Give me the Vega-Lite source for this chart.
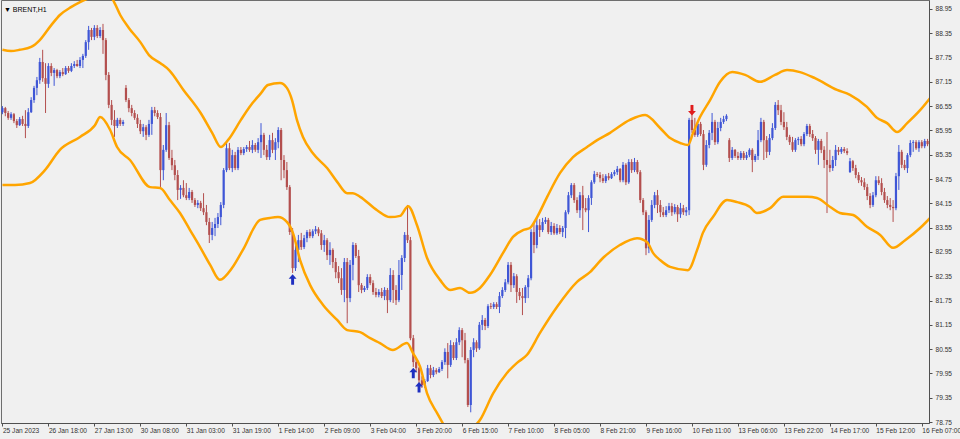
{
  "$schema": "https://vega.github.io/schema/vega-lite/v6.json",
  "width": 928,
  "height": 423,
  "autosize": {"type": "none"},
  "padding": {"left": 1, "top": 0, "right": 31, "bottom": 16},
  "background": "#f0f0f0",
  "title": {
    "text": "▼ BRENT,H1",
    "anchor": "start",
    "frame": "group",
    "orient": "top",
    "baseline": "bottom",
    "offset": -20,
    "dx": 3,
    "font": "Liberation Sans",
    "fontSize": 7,
    "fontWeight": "normal",
    "color": "#000000"
  },
  "config": {
    "view": {"stroke": "#6e6e6e", "strokeWidth": 1},
    "axis": {
      "grid": false,
      "domainColor": "#505050",
      "tickColor": "#505050",
      "tickSize": 3,
      "labelColor": "#333333",
      "labelFont": "Liberation Sans",
      "labelFontSize": 6.6,
      "labelOverlap": false,
      "labelFlush": false,
      "labelBound": false
    }
  },
  "datasets": {
    "bars": [
      {"i":0,"o":86.40,"h":86.55,"l":86.35,"c":86.50},
      {"i":1,"o":86.50,"h":86.53,"l":86.30,"c":86.38},
      {"i":2,"o":86.38,"h":86.43,"l":86.21,"c":86.26},
      {"i":3,"o":86.26,"h":86.40,"l":86.21,"c":86.35},
      {"i":4,"o":86.35,"h":86.38,"l":86.13,"c":86.18},
      {"i":5,"o":86.18,"h":86.23,"l":86.01,"c":86.08},
      {"i":6,"o":86.08,"h":86.28,"l":86.06,"c":86.23},
      {"i":7,"o":86.23,"h":86.31,"l":86.06,"c":86.11},
      {"i":8,"o":86.11,"h":86.45,"l":85.76,"c":86.06},
      {"i":9,"o":86.06,"h":86.50,"l":86.01,"c":86.40},
      {"i":10,"o":86.40,"h":86.77,"l":86.38,"c":86.70},
      {"i":11,"o":86.70,"h":87.05,"l":86.63,"c":87.00},
      {"i":12,"o":87.00,"h":87.27,"l":86.82,"c":87.19},
      {"i":13,"o":87.19,"h":87.74,"l":87.10,"c":87.64},
      {"i":14,"o":87.64,"h":87.94,"l":87.15,"c":87.24},
      {"i":15,"o":87.24,"h":87.61,"l":86.38,"c":87.10},
      {"i":16,"o":87.10,"h":87.61,"l":87.00,"c":87.54},
      {"i":17,"o":87.54,"h":87.61,"l":87.29,"c":87.37},
      {"i":18,"o":87.37,"h":87.49,"l":87.05,"c":87.44},
      {"i":19,"o":87.44,"h":87.47,"l":87.24,"c":87.29},
      {"i":20,"o":87.29,"h":87.44,"l":87.24,"c":87.39},
      {"i":21,"o":87.39,"h":87.49,"l":87.29,"c":87.34},
      {"i":22,"o":87.34,"h":87.54,"l":87.32,"c":87.49},
      {"i":23,"o":87.49,"h":87.54,"l":87.37,"c":87.42},
      {"i":24,"o":87.42,"h":87.61,"l":87.39,"c":87.54},
      {"i":25,"o":87.54,"h":87.66,"l":87.49,"c":87.59},
      {"i":26,"o":87.59,"h":87.69,"l":87.52,"c":87.54},
      {"i":27,"o":87.54,"h":87.76,"l":87.49,"c":87.69},
      {"i":28,"o":87.69,"h":87.84,"l":87.49,"c":87.79},
      {"i":29,"o":87.79,"h":88.18,"l":87.74,"c":88.13},
      {"i":30,"o":88.13,"h":88.53,"l":87.94,"c":88.43},
      {"i":31,"o":88.43,"h":88.48,"l":88.18,"c":88.26},
      {"i":32,"o":88.26,"h":88.55,"l":88.18,"c":88.48},
      {"i":33,"o":88.48,"h":88.55,"l":88.23,"c":88.28},
      {"i":34,"o":88.28,"h":88.50,"l":88.23,"c":88.43},
      {"i":35,"o":88.43,"h":88.58,"l":87.84,"c":88.18},
      {"i":36,"o":88.18,"h":88.23,"l":87.19,"c":87.32},
      {"i":37,"o":87.32,"h":87.39,"l":86.50,"c":86.58},
      {"i":38,"o":86.58,"h":86.70,"l":86.08,"c":86.21},
      {"i":39,"o":86.21,"h":86.45,"l":85.79,"c":86.06},
      {"i":40,"o":86.06,"h":86.26,"l":86.01,"c":86.21},
      {"i":41,"o":86.21,"h":86.26,"l":86.06,"c":86.11},
      {"i":42,"o":86.11,"h":86.21,"l":86.06,"c":86.16},
      {"i":43,"o":87.00,"h":87.07,"l":86.65,"c":86.70},
      {"i":44,"o":86.70,"h":86.75,"l":86.40,"c":86.50},
      {"i":45,"o":86.50,"h":86.58,"l":86.30,"c":86.38},
      {"i":46,"o":86.38,"h":86.45,"l":86.21,"c":86.26},
      {"i":47,"o":86.26,"h":86.35,"l":86.01,"c":86.11},
      {"i":48,"o":86.11,"h":86.21,"l":85.86,"c":85.93},
      {"i":49,"o":85.93,"h":86.11,"l":85.79,"c":86.03},
      {"i":50,"o":86.03,"h":86.08,"l":85.71,"c":85.84},
      {"i":51,"o":85.84,"h":86.21,"l":85.79,"c":86.11},
      {"i":52,"o":86.11,"h":86.53,"l":85.84,"c":86.45},
      {"i":53,"o":86.45,"h":86.53,"l":86.30,"c":86.38},
      {"i":54,"o":86.38,"h":86.45,"l":86.23,"c":86.28},
      {"i":55,"o":86.28,"h":86.38,"l":84.55,"c":84.97},
      {"i":56,"o":84.97,"h":85.59,"l":84.72,"c":85.47},
      {"i":57,"o":85.47,"h":86.38,"l":85.42,"c":86.08},
      {"i":58,"o":86.08,"h":86.16,"l":85.22,"c":85.27},
      {"i":59,"o":85.27,"h":85.47,"l":84.97,"c":85.09},
      {"i":60,"o":85.09,"h":85.22,"l":84.72,"c":84.85},
      {"i":61,"o":84.85,"h":84.97,"l":84.23,"c":84.48},
      {"i":62,"o":84.48,"h":84.60,"l":84.26,"c":84.53},
      {"i":63,"o":84.53,"h":84.72,"l":84.30,"c":84.35},
      {"i":64,"o":84.35,"h":84.65,"l":84.23,"c":84.28},
      {"i":65,"o":84.28,"h":84.53,"l":84.23,"c":84.43},
      {"i":66,"o":84.43,"h":84.48,"l":84.16,"c":84.23},
      {"i":67,"o":84.23,"h":84.28,"l":84.06,"c":84.11},
      {"i":68,"o":84.11,"h":84.23,"l":84.03,"c":84.16},
      {"i":69,"o":84.16,"h":84.21,"l":83.96,"c":84.03},
      {"i":70,"o":84.03,"h":84.40,"l":83.86,"c":83.93},
      {"i":71,"o":83.93,"h":84.11,"l":83.61,"c":83.69},
      {"i":72,"o":83.69,"h":83.79,"l":83.17,"c":83.37},
      {"i":73,"o":83.37,"h":83.69,"l":83.24,"c":83.54},
      {"i":74,"o":83.54,"h":83.79,"l":83.34,"c":83.64},
      {"i":75,"o":83.64,"h":83.91,"l":83.54,"c":83.81},
      {"i":76,"o":83.81,"h":84.18,"l":83.61,"c":84.11},
      {"i":77,"o":84.11,"h":85.02,"l":84.03,"c":84.97},
      {"i":78,"o":84.97,"h":85.66,"l":84.92,"c":85.51},
      {"i":79,"o":85.51,"h":85.64,"l":84.97,"c":85.02},
      {"i":80,"o":85.02,"h":85.47,"l":84.92,"c":85.34},
      {"i":81,"o":85.34,"h":85.42,"l":84.97,"c":85.02},
      {"i":82,"o":85.02,"h":85.54,"l":84.97,"c":85.47},
      {"i":83,"o":85.47,"h":85.54,"l":85.34,"c":85.39},
      {"i":84,"o":85.39,"h":85.54,"l":85.34,"c":85.49},
      {"i":85,"o":85.49,"h":85.59,"l":85.42,"c":85.54},
      {"i":86,"o":85.54,"h":85.69,"l":85.42,"c":85.47},
      {"i":87,"o":85.47,"h":85.71,"l":85.39,"c":85.59},
      {"i":88,"o":85.59,"h":85.64,"l":85.42,"c":85.47},
      {"i":89,"o":85.47,"h":85.76,"l":85.39,"c":85.66},
      {"i":90,"o":85.66,"h":86.13,"l":85.27,"c":85.84},
      {"i":91,"o":85.84,"h":85.89,"l":85.34,"c":85.47},
      {"i":92,"o":85.47,"h":85.59,"l":85.22,"c":85.29},
      {"i":93,"o":85.29,"h":85.84,"l":85.22,"c":85.71},
      {"i":94,"o":85.71,"h":85.89,"l":85.39,"c":85.47},
      {"i":95,"o":85.47,"h":85.76,"l":85.22,"c":85.66},
      {"i":96,"o":85.66,"h":86.03,"l":85.51,"c":85.96},
      {"i":97,"o":85.96,"h":86.01,"l":84.72,"c":85.22},
      {"i":98,"o":85.22,"h":85.34,"l":84.77,"c":84.97},
      {"i":99,"o":84.97,"h":85.17,"l":84.48,"c":84.55},
      {"i":100,"o":84.55,"h":84.60,"l":83.37,"c":83.44},
      {"i":101,"o":83.44,"h":83.54,"l":82.43,"c":82.55},
      {"i":102,"o":82.55,"h":83.12,"l":82.48,"c":83.00},
      {"i":103,"o":83.00,"h":83.37,"l":82.70,"c":83.24},
      {"i":104,"o":83.24,"h":83.42,"l":83.00,"c":83.07},
      {"i":105,"o":83.07,"h":83.37,"l":83.02,"c":83.29},
      {"i":106,"o":83.29,"h":83.49,"l":83.19,"c":83.44},
      {"i":107,"o":83.44,"h":83.51,"l":83.29,"c":83.34},
      {"i":108,"o":83.34,"h":83.51,"l":83.29,"c":83.46},
      {"i":109,"o":83.46,"h":83.59,"l":83.39,"c":83.51},
      {"i":110,"o":83.51,"h":83.56,"l":83.34,"c":83.41},
      {"i":111,"o":83.41,"h":83.49,"l":83.00,"c":83.12},
      {"i":112,"o":83.12,"h":83.37,"l":82.95,"c":83.24},
      {"i":113,"o":83.24,"h":83.29,"l":82.75,"c":82.87},
      {"i":114,"o":82.87,"h":83.19,"l":82.63,"c":83.00},
      {"i":115,"o":83.00,"h":83.04,"l":82.55,"c":82.70},
      {"i":116,"o":82.70,"h":82.80,"l":82.30,"c":82.45},
      {"i":117,"o":82.45,"h":82.60,"l":82.18,"c":82.30},
      {"i":118,"o":82.30,"h":82.55,"l":81.89,"c":82.01},
      {"i":119,"o":82.01,"h":82.80,"l":81.71,"c":82.70},
      {"i":120,"o":82.70,"h":82.80,"l":81.19,"c":81.81},
      {"i":121,"o":81.81,"h":82.75,"l":81.71,"c":82.63},
      {"i":122,"o":82.63,"h":83.19,"l":82.25,"c":83.12},
      {"i":123,"o":83.12,"h":83.17,"l":82.80,"c":82.85},
      {"i":124,"o":82.85,"h":83.00,"l":81.96,"c":82.13},
      {"i":125,"o":82.13,"h":82.18,"l":81.93,"c":82.01},
      {"i":126,"o":82.01,"h":82.11,"l":81.96,"c":82.06},
      {"i":127,"o":82.06,"h":82.40,"l":82.01,"c":82.33},
      {"i":128,"o":82.33,"h":82.40,"l":82.13,"c":82.18},
      {"i":129,"o":82.18,"h":82.25,"l":81.89,"c":81.96},
      {"i":130,"o":81.96,"h":82.06,"l":81.83,"c":81.89},
      {"i":131,"o":81.89,"h":82.03,"l":81.83,"c":81.96},
      {"i":132,"o":81.96,"h":82.06,"l":81.81,"c":81.86},
      {"i":133,"o":81.86,"h":82.08,"l":81.76,"c":82.01},
      {"i":134,"o":82.01,"h":82.06,"l":81.44,"c":81.76},
      {"i":135,"o":81.76,"h":82.55,"l":81.71,"c":82.38},
      {"i":136,"o":82.38,"h":82.50,"l":81.69,"c":82.01},
      {"i":137,"o":82.01,"h":82.13,"l":81.64,"c":81.76},
      {"i":138,"o":81.76,"h":82.75,"l":81.71,"c":82.38},
      {"i":139,"o":82.38,"h":82.87,"l":82.01,"c":82.80},
      {"i":140,"o":82.80,"h":83.44,"l":82.70,"c":83.37},
      {"i":141,"o":83.37,"h":84.11,"l":83.17,"c":83.24},
      {"i":142,"o":83.24,"h":83.32,"l":80.77,"c":80.82},
      {"i":143,"o":80.82,"h":80.90,"l":80.11,"c":80.23},
      {"i":144,"o":80.23,"h":80.33,"l":79.98,"c":80.08},
      {"i":145,"o":80.08,"h":80.11,"l":79.71,"c":79.78},
      {"i":146,"o":79.78,"h":79.88,"l":79.59,"c":79.66},
      {"i":147,"o":79.66,"h":79.81,"l":79.59,"c":79.76},
      {"i":148,"o":79.76,"h":80.16,"l":79.74,"c":80.08},
      {"i":149,"o":80.08,"h":80.16,"l":79.83,"c":79.91},
      {"i":150,"o":79.91,"h":80.11,"l":79.86,"c":80.03},
      {"i":151,"o":80.03,"h":80.08,"l":79.93,"c":79.98},
      {"i":152,"o":79.98,"h":80.11,"l":79.96,"c":80.06},
      {"i":153,"o":80.06,"h":80.28,"l":80.01,"c":80.23},
      {"i":154,"o":80.23,"h":80.57,"l":80.16,"c":80.48},
      {"i":155,"o":80.48,"h":80.70,"l":79.83,"c":80.16},
      {"i":156,"o":80.16,"h":80.77,"l":80.11,"c":80.65},
      {"i":157,"o":80.65,"h":80.72,"l":80.28,"c":80.33},
      {"i":158,"o":80.33,"h":80.82,"l":80.28,"c":80.72},
      {"i":159,"o":80.72,"h":81.09,"l":80.65,"c":81.02},
      {"i":160,"o":81.02,"h":81.07,"l":80.35,"c":80.77},
      {"i":161,"o":80.77,"h":80.95,"l":80.20,"c":80.28},
      {"i":162,"o":80.28,"h":80.33,"l":79.12,"c":79.17},
      {"i":163,"o":79.17,"h":80.60,"l":78.99,"c":80.53},
      {"i":164,"o":80.53,"h":80.82,"l":80.35,"c":80.72},
      {"i":165,"o":80.72,"h":80.77,"l":80.48,"c":80.57},
      {"i":166,"o":80.57,"h":81.22,"l":80.53,"c":81.15},
      {"i":167,"o":81.15,"h":81.39,"l":81.02,"c":81.27},
      {"i":168,"o":81.27,"h":81.32,"l":81.02,"c":81.12},
      {"i":169,"o":81.12,"h":81.66,"l":81.07,"c":81.61},
      {"i":170,"o":81.61,"h":81.69,"l":81.54,"c":81.59},
      {"i":171,"o":81.59,"h":81.71,"l":81.54,"c":81.66},
      {"i":172,"o":81.66,"h":81.71,"l":81.54,"c":81.59},
      {"i":173,"o":81.59,"h":81.96,"l":81.44,"c":81.86},
      {"i":174,"o":81.86,"h":82.08,"l":81.81,"c":82.01},
      {"i":175,"o":82.01,"h":82.28,"l":81.96,"c":82.20},
      {"i":176,"o":82.20,"h":82.70,"l":82.15,"c":82.63},
      {"i":177,"o":82.63,"h":82.70,"l":81.96,"c":82.13},
      {"i":178,"o":82.13,"h":82.43,"l":82.06,"c":82.35},
      {"i":179,"o":82.35,"h":82.40,"l":81.69,"c":81.96},
      {"i":180,"o":81.96,"h":82.06,"l":81.76,"c":81.86},
      {"i":181,"o":81.86,"h":82.06,"l":81.39,"c":81.81},
      {"i":182,"o":81.81,"h":82.13,"l":81.69,"c":82.08},
      {"i":183,"o":82.08,"h":82.38,"l":81.81,"c":82.30},
      {"i":184,"o":82.30,"h":83.51,"l":82.25,"c":83.44},
      {"i":185,"o":83.44,"h":83.69,"l":82.92,"c":83.12},
      {"i":186,"o":83.12,"h":83.79,"l":83.04,"c":83.61},
      {"i":187,"o":83.61,"h":83.76,"l":83.32,"c":83.49},
      {"i":188,"o":83.49,"h":83.79,"l":83.44,"c":83.69},
      {"i":189,"o":83.69,"h":83.81,"l":83.64,"c":83.74},
      {"i":190,"o":83.74,"h":83.79,"l":83.39,"c":83.44},
      {"i":191,"o":83.44,"h":83.69,"l":83.37,"c":83.59},
      {"i":192,"o":83.59,"h":83.66,"l":83.37,"c":83.41},
      {"i":193,"o":83.41,"h":83.64,"l":83.37,"c":83.54},
      {"i":194,"o":83.54,"h":83.61,"l":83.39,"c":83.44},
      {"i":195,"o":83.44,"h":83.59,"l":83.32,"c":83.54},
      {"i":196,"o":83.54,"h":83.98,"l":83.29,"c":83.93},
      {"i":197,"o":83.93,"h":84.43,"l":83.88,"c":84.35},
      {"i":198,"o":84.35,"h":84.65,"l":84.28,"c":84.60},
      {"i":199,"o":84.60,"h":84.65,"l":84.16,"c":84.23},
      {"i":200,"o":84.23,"h":84.30,"l":83.91,"c":83.98},
      {"i":201,"o":83.98,"h":84.43,"l":83.79,"c":84.35},
      {"i":202,"o":84.35,"h":84.58,"l":83.49,"c":84.03},
      {"i":203,"o":84.03,"h":84.28,"l":83.93,"c":83.98},
      {"i":204,"o":83.98,"h":84.35,"l":83.44,"c":84.28},
      {"i":205,"o":84.28,"h":84.72,"l":84.11,"c":84.67},
      {"i":206,"o":84.67,"h":84.95,"l":84.63,"c":84.87},
      {"i":207,"o":84.87,"h":84.92,"l":84.80,"c":84.85},
      {"i":208,"o":84.85,"h":84.92,"l":84.67,"c":84.77},
      {"i":209,"o":84.77,"h":84.87,"l":84.65,"c":84.70},
      {"i":210,"o":84.70,"h":84.87,"l":84.65,"c":84.82},
      {"i":211,"o":84.82,"h":84.90,"l":84.72,"c":84.77},
      {"i":212,"o":84.77,"h":84.92,"l":84.75,"c":84.87},
      {"i":213,"o":84.87,"h":84.97,"l":84.82,"c":84.92},
      {"i":214,"o":84.92,"h":85.07,"l":84.85,"c":85.00},
      {"i":215,"o":85.00,"h":85.02,"l":84.67,"c":84.72},
      {"i":216,"o":84.72,"h":85.17,"l":84.67,"c":85.10},
      {"i":217,"o":85.10,"h":85.14,"l":84.60,"c":84.67},
      {"i":218,"o":84.67,"h":85.24,"l":84.63,"c":85.17},
      {"i":219,"o":85.17,"h":85.24,"l":84.90,"c":84.97},
      {"i":220,"o":84.97,"h":85.27,"l":84.92,"c":85.17},
      {"i":221,"o":85.17,"h":85.22,"l":84.87,"c":84.92},
      {"i":222,"o":84.92,"h":84.97,"l":84.16,"c":84.23},
      {"i":223,"o":84.23,"h":84.28,"l":83.86,"c":83.93},
      {"i":224,"o":83.93,"h":83.98,"l":82.87,"c":83.04},
      {"i":225,"o":83.04,"h":83.86,"l":82.92,"c":83.74},
      {"i":226,"o":83.74,"h":84.23,"l":83.69,"c":84.11},
      {"i":227,"o":84.11,"h":84.43,"l":84.03,"c":84.35},
      {"i":228,"o":84.35,"h":84.48,"l":83.91,"c":84.11},
      {"i":229,"o":84.11,"h":84.23,"l":83.81,"c":83.93},
      {"i":230,"o":83.93,"h":84.06,"l":83.81,"c":83.86},
      {"i":231,"o":83.86,"h":84.08,"l":83.81,"c":83.98},
      {"i":232,"o":83.98,"h":84.16,"l":83.91,"c":84.08},
      {"i":233,"o":84.08,"h":84.16,"l":83.84,"c":83.93},
      {"i":234,"o":83.93,"h":84.13,"l":83.88,"c":84.06},
      {"i":235,"o":84.06,"h":84.11,"l":83.69,"c":83.88},
      {"i":236,"o":83.88,"h":84.16,"l":83.79,"c":84.03},
      {"i":237,"o":84.03,"h":84.11,"l":83.86,"c":83.93},
      {"i":238,"o":83.93,"h":84.06,"l":83.84,"c":83.98},
      {"i":239,"o":83.98,"h":86.26,"l":83.86,"c":86.21},
      {"i":240,"o":86.21,"h":86.58,"l":85.89,"c":85.96},
      {"i":241,"o":85.96,"h":86.26,"l":85.79,"c":85.84},
      {"i":242,"o":85.84,"h":86.18,"l":85.79,"c":86.11},
      {"i":243,"o":86.11,"h":86.16,"l":85.81,"c":85.86},
      {"i":244,"o":85.86,"h":85.96,"l":84.97,"c":85.10},
      {"i":245,"o":85.10,"h":85.71,"l":85.05,"c":85.59},
      {"i":246,"o":85.59,"h":85.96,"l":85.51,"c":85.89},
      {"i":247,"o":85.89,"h":86.38,"l":85.71,"c":86.16},
      {"i":248,"o":86.16,"h":86.21,"l":85.59,"c":85.66},
      {"i":249,"o":85.66,"h":86.16,"l":85.61,"c":86.01},
      {"i":250,"o":86.01,"h":86.26,"l":85.93,"c":86.16},
      {"i":251,"o":86.16,"h":86.31,"l":86.11,"c":86.23},
      {"i":252,"o":86.23,"h":86.35,"l":86.18,"c":86.31},
      {"i":253,"o":85.71,"h":85.76,"l":85.17,"c":85.27},
      {"i":254,"o":85.27,"h":85.54,"l":85.22,"c":85.47},
      {"i":255,"o":85.47,"h":85.49,"l":85.27,"c":85.32},
      {"i":256,"o":85.32,"h":85.42,"l":85.22,"c":85.27},
      {"i":257,"o":85.27,"h":85.44,"l":85.22,"c":85.39},
      {"i":258,"o":85.39,"h":85.44,"l":85.22,"c":85.27},
      {"i":259,"o":85.27,"h":85.42,"l":85.22,"c":85.34},
      {"i":260,"o":85.34,"h":85.51,"l":85.29,"c":85.47},
      {"i":261,"o":85.47,"h":85.51,"l":84.92,"c":85.22},
      {"i":262,"o":85.22,"h":85.37,"l":85.17,"c":85.32},
      {"i":263,"o":85.32,"h":85.96,"l":85.22,"c":85.71},
      {"i":264,"o":85.71,"h":86.26,"l":85.66,"c":86.16},
      {"i":265,"o":86.16,"h":86.21,"l":85.22,"c":85.71},
      {"i":266,"o":85.71,"h":85.81,"l":85.27,"c":85.42},
      {"i":267,"o":85.42,"h":85.86,"l":85.34,"c":85.76},
      {"i":268,"o":85.76,"h":86.13,"l":85.71,"c":86.01},
      {"i":269,"o":86.01,"h":86.65,"l":85.96,"c":86.58},
      {"i":270,"o":86.58,"h":86.70,"l":86.33,"c":86.45},
      {"i":271,"o":86.45,"h":86.58,"l":86.08,"c":86.16},
      {"i":272,"o":86.16,"h":86.40,"l":85.96,"c":86.03},
      {"i":273,"o":86.03,"h":86.16,"l":85.71,"c":85.79},
      {"i":274,"o":85.79,"h":85.84,"l":85.59,"c":85.66},
      {"i":275,"o":85.66,"h":85.79,"l":85.42,"c":85.47},
      {"i":276,"o":85.47,"h":85.76,"l":85.42,"c":85.71},
      {"i":277,"o":85.71,"h":85.79,"l":85.59,"c":85.74},
      {"i":278,"o":85.74,"h":85.81,"l":85.56,"c":85.61},
      {"i":279,"o":85.61,"h":85.91,"l":85.56,"c":85.86},
      {"i":280,"o":85.86,"h":86.11,"l":85.81,"c":86.06},
      {"i":281,"o":86.06,"h":86.11,"l":85.79,"c":85.86},
      {"i":282,"o":85.86,"h":85.96,"l":85.69,"c":85.76},
      {"i":283,"o":85.76,"h":85.81,"l":85.37,"c":85.47},
      {"i":284,"o":85.47,"h":85.74,"l":85.10,"c":85.69},
      {"i":285,"o":85.69,"h":85.74,"l":85.39,"c":85.47},
      {"i":286,"o":85.47,"h":85.56,"l":85.02,"c":85.22},
      {"i":287,"o":85.22,"h":85.91,"l":83.91,"c":85.10},
      {"i":288,"o":85.10,"h":85.47,"l":84.92,"c":85.02},
      {"i":289,"o":85.02,"h":85.32,"l":84.95,"c":85.22},
      {"i":290,"o":85.22,"h":85.59,"l":85.07,"c":85.47},
      {"i":291,"o":85.47,"h":85.54,"l":85.34,"c":85.42},
      {"i":292,"o":85.42,"h":85.54,"l":85.37,"c":85.49},
      {"i":293,"o":85.49,"h":85.54,"l":85.39,"c":85.44},
      {"i":294,"o":85.44,"h":85.51,"l":85.34,"c":85.39},
      {"i":295,"o":84.92,"h":85.27,"l":84.90,"c":85.19},
      {"i":296,"o":85.19,"h":85.22,"l":84.95,"c":85.02},
      {"i":297,"o":85.02,"h":85.10,"l":84.77,"c":84.85},
      {"i":298,"o":84.85,"h":84.92,"l":84.65,"c":84.72},
      {"i":299,"o":84.72,"h":84.80,"l":84.58,"c":84.67},
      {"i":300,"o":84.67,"h":84.77,"l":84.48,"c":84.55},
      {"i":301,"o":84.55,"h":84.63,"l":84.23,"c":84.33},
      {"i":302,"o":84.33,"h":84.40,"l":84.03,"c":84.11},
      {"i":303,"o":84.11,"h":84.43,"l":84.06,"c":84.35},
      {"i":304,"o":84.35,"h":84.82,"l":84.30,"c":84.72},
      {"i":305,"o":84.72,"h":84.82,"l":84.60,"c":84.65},
      {"i":306,"o":84.65,"h":84.77,"l":84.35,"c":84.43},
      {"i":307,"o":84.43,"h":84.53,"l":84.16,"c":84.23},
      {"i":308,"o":84.23,"h":84.33,"l":84.03,"c":84.11},
      {"i":309,"o":84.11,"h":84.28,"l":83.98,"c":84.06},
      {"i":310,"o":84.06,"h":84.23,"l":83.69,"c":84.03},
      {"i":311,"o":84.03,"h":84.90,"l":83.98,"c":84.82},
      {"i":312,"o":84.82,"h":85.59,"l":84.48,"c":85.42},
      {"i":313,"o":85.42,"h":85.47,"l":85.02,"c":85.10},
      {"i":314,"o":85.10,"h":85.22,"l":84.97,"c":85.02},
      {"i":315,"o":85.02,"h":85.39,"l":84.90,"c":85.34},
      {"i":316,"o":85.34,"h":85.71,"l":85.29,"c":85.64},
      {"i":317,"o":85.64,"h":85.71,"l":85.42,"c":85.66},
      {"i":318,"o":85.66,"h":85.71,"l":85.47,"c":85.51},
      {"i":319,"o":85.51,"h":85.71,"l":85.42,"c":85.66},
      {"i":320,"o":85.66,"h":85.71,"l":85.51,"c":85.56},
      {"i":321,"o":85.56,"h":85.74,"l":85.51,"c":85.69},
      {"i":322,"o":85.69,"h":85.74,"l":85.56,"c":85.61}
    ],
    "bands": [
      {"b":"upper","i":0,"v":87.94},{"b":"upper","i":3,"v":87.91},{"b":"upper","i":6,"v":87.94},
      {"b":"upper","i":10,"v":88.01},{"b":"upper","i":13,"v":88.18},{"b":"upper","i":17,"v":88.55},
      {"b":"upper","i":20,"v":88.80},{"b":"upper","i":24,"v":89.00},{"b":"upper","i":27,"v":89.12},
      {"b":"upper","i":31,"v":89.24},{"b":"upper","i":34,"v":89.32},{"b":"upper","i":38,"v":89.22},
      {"b":"upper","i":39,"v":89.10},{"b":"upper","i":41,"v":88.80},{"b":"upper","i":44,"v":88.48},
      {"b":"upper","i":48,"v":88.13},{"b":"upper","i":51,"v":87.81},{"b":"upper","i":55,"v":87.61},
      {"b":"upper","i":58,"v":87.44},{"b":"upper","i":63,"v":86.95},{"b":"upper","i":69,"v":86.38},
      {"b":"upper","i":73,"v":85.89},{"b":"upper","i":76,"v":85.54},{"b":"upper","i":78.5,"v":85.71},
      {"b":"upper","i":83,"v":86.21},{"b":"upper","i":86,"v":86.53},{"b":"upper","i":90,"v":86.87},
      {"b":"upper","i":92.4,"v":87.07},{"b":"upper","i":96.6,"v":87.12},{"b":"upper","i":99,"v":87.00},
      {"b":"upper","i":100.8,"v":86.70},{"b":"upper","i":102.5,"v":86.21},{"b":"upper","i":104.6,"v":85.79},
      {"b":"upper","i":108,"v":85.39},{"b":"upper","i":113,"v":85.02},{"b":"upper","i":116.5,"v":84.68},
      {"b":"upper","i":120,"v":84.40},{"b":"upper","i":122,"v":84.40},{"b":"upper","i":124.5,"v":84.31},
      {"b":"upper","i":130.4,"v":83.98},{"b":"upper","i":134.9,"v":83.81},{"b":"upper","i":138.4,"v":83.84},
      {"b":"upper","i":141.2,"v":84.08},{"b":"upper","i":144.3,"v":83.61},{"b":"upper","i":147.8,"v":82.80},
      {"b":"upper","i":152.3,"v":82.26},{"b":"upper","i":155.8,"v":82.01},{"b":"upper","i":159.3,"v":82.06},
      {"b":"upper","i":162.8,"v":81.94},{"b":"upper","i":166.2,"v":82.06},{"b":"upper","i":169.7,"v":82.38},
      {"b":"upper","i":174.2,"v":82.92},{"b":"upper","i":177.7,"v":83.32},{"b":"upper","i":181.2,"v":83.49},
      {"b":"upper","i":183.6,"v":83.54},{"b":"upper","i":186.1,"v":83.81},{"b":"upper","i":189.6,"v":84.31},
      {"b":"upper","i":194.1,"v":84.90},{"b":"upper","i":198.6,"v":85.29},{"b":"upper","i":203.5,"v":85.54},
      {"b":"upper","i":207,"v":85.71},{"b":"upper","i":211.5,"v":85.89},{"b":"upper","i":218.4,"v":86.21},
      {"b":"upper","i":223.7,"v":86.33},{"b":"upper","i":228.9,"v":86.01},{"b":"upper","i":232.4,"v":85.76},
      {"b":"upper","i":235.9,"v":85.64},{"b":"upper","i":238.6,"v":85.59},{"b":"upper","i":240.4,"v":85.89},
      {"b":"upper","i":242.8,"v":86.28},{"b":"upper","i":246.3,"v":86.70},{"b":"upper","i":249.8,"v":87.15},
      {"b":"upper","i":254,"v":87.39},{"b":"upper","i":258.5,"v":87.32},{"b":"upper","i":263.7,"v":87.15},
      {"b":"upper","i":268.9,"v":87.32},{"b":"upper","i":273.1,"v":87.44},{"b":"upper","i":277.6,"v":87.39},
      {"b":"upper","i":282.8,"v":87.24},{"b":"upper","i":290.5,"v":86.95},{"b":"upper","i":295,"v":86.83},
      {"b":"upper","i":300.9,"v":86.53},{"b":"upper","i":304.4,"v":86.26},{"b":"upper","i":307.9,"v":86.13},
      {"b":"upper","i":311.4,"v":85.91},{"b":"upper","i":314.9,"v":86.13},{"b":"upper","i":319.4,"v":86.45},
      {"b":"upper","i":322.9,"v":86.75},
      {"b":"lower","i":0,"v":84.60},{"b":"lower","i":4.4,"v":84.60},{"b":"lower","i":9.6,"v":84.65},
      {"b":"lower","i":14.8,"v":84.97},{"b":"lower","i":20,"v":85.47},{"b":"lower","i":27,"v":85.79},
      {"b":"lower","i":32.2,"v":86.08},{"b":"lower","i":34,"v":86.28},{"b":"lower","i":37.5,"v":85.96},
      {"b":"lower","i":39.9,"v":85.54},{"b":"lower","i":44.4,"v":85.22},{"b":"lower","i":51.4,"v":84.55},
      {"b":"lower","i":54.9,"v":84.53},{"b":"lower","i":58.3,"v":84.23},{"b":"lower","i":61.8,"v":83.91},
      {"b":"lower","i":65.3,"v":83.49},{"b":"lower","i":68.8,"v":83.07},{"b":"lower","i":72.3,"v":82.63},
      {"b":"lower","i":75.7,"v":82.26},{"b":"lower","i":79.9,"v":82.55},{"b":"lower","i":83.7,"v":83.00},
      {"b":"lower","i":89.7,"v":83.74},{"b":"lower","i":93.1,"v":83.79},{"b":"lower","i":95.9,"v":83.81},
      {"b":"lower","i":99,"v":83.69},{"b":"lower","i":101.1,"v":83.42},{"b":"lower","i":103.6,"v":82.75},
      {"b":"lower","i":107.1,"v":82.13},{"b":"lower","i":111.6,"v":81.64},{"b":"lower","i":116.5,"v":81.27},
      {"b":"lower","i":120,"v":81.02},{"b":"lower","i":124.5,"v":80.97},{"b":"lower","i":128,"v":80.82},
      {"b":"lower","i":131.4,"v":80.70},{"b":"lower","i":135.9,"v":80.53},{"b":"lower","i":140.8,"v":80.70},
      {"b":"lower","i":142.9,"v":80.45},{"b":"lower","i":145.4,"v":80.11},{"b":"lower","i":147.8,"v":79.46},
      {"b":"lower","i":151.3,"v":78.97},{"b":"lower","i":154.8,"v":78.55},{"b":"lower","i":158.6,"v":78.30},
      {"b":"lower","i":162.8,"v":78.55},{"b":"lower","i":166.2,"v":78.80},{"b":"lower","i":170.8,"v":79.46},
      {"b":"lower","i":175.6,"v":79.96},{"b":"lower","i":179.1,"v":80.21},{"b":"lower","i":182.6,"v":80.41},
      {"b":"lower","i":187.1,"v":80.95},{"b":"lower","i":193,"v":81.59},{"b":"lower","i":200,"v":82.21},
      {"b":"lower","i":204.5,"v":82.45},{"b":"lower","i":209,"v":82.80},{"b":"lower","i":214.9,"v":83.12},
      {"b":"lower","i":220.9,"v":83.29},{"b":"lower","i":224.4,"v":83.19},{"b":"lower","i":226.5,"v":82.92},
      {"b":"lower","i":228.9,"v":82.75},{"b":"lower","i":232.4,"v":82.58},{"b":"lower","i":238.6,"v":82.50},
      {"b":"lower","i":241.8,"v":83.00},{"b":"lower","i":243.8,"v":83.42},{"b":"lower","i":247.3,"v":83.81},
      {"b":"lower","i":252.2,"v":84.23},{"b":"lower","i":255.7,"v":84.18},{"b":"lower","i":260.2,"v":84.06},
      {"b":"lower","i":262.6,"v":83.91},{"b":"lower","i":267.2,"v":84.03},{"b":"lower","i":271.7,"v":84.31},
      {"b":"lower","i":280.1,"v":84.31},{"b":"lower","i":283.5,"v":84.28},{"b":"lower","i":288.1,"v":84.06},
      {"b":"lower","i":291.5,"v":83.91},{"b":"lower","i":296.1,"v":83.86},{"b":"lower","i":300.9,"v":83.57},
      {"b":"lower","i":305.5,"v":83.37},{"b":"lower","i":310,"v":83.05},{"b":"lower","i":314.2,"v":83.24},
      {"b":"lower","i":319.4,"v":83.54},{"b":"lower","i":322.9,"v":83.79}
    ],
    "signals": [
      {"i":101,"v":82.27,"dir":"up"},
      {"i":143,"v":79.96,"dir":"up"},
      {"i":145,"v":79.61,"dir":"up"},
      {"i":240,"v":86.45,"dir":"down"}
    ]
  },
  "layer": [
    {
      "data": {"name": "bars"},
      "mark": {"type": "rule", "strokeWidth": 1},
      "encoding": {
        "x": {
          "field": "i", "type": "quantitative", "title": null,
          "scale": {"domain": [-0.5, 322.5], "nice": false, "zero": false},
          "axis": {
            "title": null,
            "values": [0,16,32,48,64,80,96,112,128,144,160,176,192,208,224,240,256,272,288,304,320],
            "tickCount": 60,
            "labelExpr": "['25 Jan 2023','26 Jan 18:00','27 Jan 13:00','30 Jan 08:00','31 Jan 03:00','31 Jan 19:00','1 Feb 14:00','2 Feb 09:00','3 Feb 04:00','3 Feb 20:00','6 Feb 15:00','7 Feb 10:00','8 Feb 05:00','8 Feb 21:00','9 Feb 16:00','10 Feb 11:00','13 Feb 06:00','13 Feb 22:00','14 Feb 17:00','15 Feb 12:00','16 Feb 07:00'][round(datum.value / 16)]",
            "labelAlign": "left",
            "labelBaseline": "top",
            "labelPadding": 1,
            "labelDx": 1
          }
        },
        "y": {
          "field": "l", "type": "quantitative", "title": null,
          "scale": {"domain": [78.726, 89.17], "nice": false, "zero": false},
          "axis": {
            "title": null,
            "orient": "right",
            "values": [78.75,79.35,79.95,80.55,81.15,81.75,82.35,82.95,83.55,84.15,84.75,85.35,85.95,86.55,87.15,87.75,88.35,88.95],
            "tickCount": 60,
            "format": ".2f",
            "labelPadding": 3
          }
        },
        "y2": {"field": "h"},
        "color": {"condition": {"test": "datum.c >= datum.o", "value": "#3f56d6"}, "value": "#b34f4e"}
      }
    },
    {
      "data": {"name": "bars"},
      "mark": {"type": "rule", "strokeWidth": 2.2},
      "encoding": {
        "x": {"field": "i", "type": "quantitative", "title": null},
        "y": {"field": "o", "type": "quantitative", "title": null},
        "y2": {"field": "c"},
        "color": {"condition": {"test": "datum.c >= datum.o", "value": "#3f56d6"}, "value": "#b34f4e"}
      }
    },
    {
      "data": {"name": "bands"},
      "mark": {"type": "line", "color": "#ffa500", "strokeWidth": 2.5, "interpolate": "monotone", "clip": true},
      "encoding": {
        "x": {"field": "i", "type": "quantitative", "title": null},
        "y": {"field": "v", "type": "quantitative", "title": null},
        "detail": {"field": "b"}
      }
    },
    {
      "data": {"name": "signals"},
      "mark": {"type": "point", "filled": true, "size": 110, "opacity": 1, "strokeWidth": 0},
      "encoding": {
        "x": {"field": "i", "type": "quantitative", "title": null},
        "y": {"field": "v", "type": "quantitative", "title": null},
        "shape": {
          "field": "dir", "type": "nominal", "legend": null,
          "scale": {"domain": ["up", "down"], "range": ["M0,-1L0.75,-0.15L0.28,-0.15L0.28,1L-0.28,1L-0.28,-0.15L-0.75,-0.15Z", "M0,1L0.75,0.15L0.28,0.15L0.28,-1L-0.28,-1L-0.28,0.15L-0.75,0.15Z"]}
        },
        "color": {
          "field": "dir", "type": "nominal", "legend": null,
          "scale": {"domain": ["up", "down"], "range": ["#1f2fc0", "#e01c1c"]}
        }
      }
    }
  ]
}
